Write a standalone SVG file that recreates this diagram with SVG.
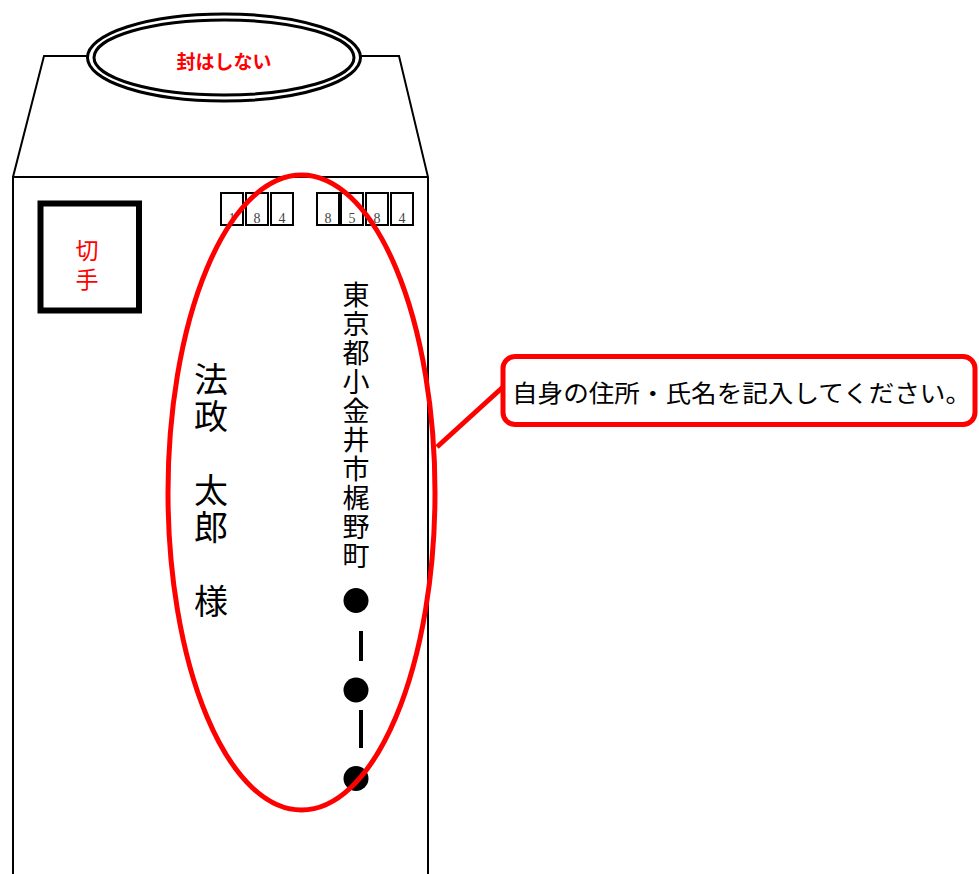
<svg xmlns="http://www.w3.org/2000/svg" width="979" height="874" viewBox="0 0 979 874">
<style>
.ln{fill:none;stroke:#000;stroke-width:2}
.box{fill:#fff;stroke:#000;stroke-width:2}
.dig{font-family:"Liberation Serif",serif;font-size:14px;fill:#444;text-anchor:middle}
.vt{font-family:"Noto Sans CJK JP",sans-serif;fill:#000;text-anchor:middle;dominant-baseline:central}
.vr{font-family:"Noto Sans CJK JP",sans-serif;fill:#000;writing-mode:vertical-rl}
.red{stroke:#f00;fill:none;stroke-width:5}
</style>
<rect width="979" height="874" fill="#fff"/>
<g id="envelope">
<polyline class="ln" points="13,874 13,177 44,56 399,56 428,177 428,874"/>
<line class="ln" x1="13" y1="177" x2="428" y2="177"/>
</g>
<g id="seal">
<ellipse cx="224" cy="57.5" rx="136.5" ry="43.5" fill="#fff" stroke="#000" stroke-width="3"/>
<ellipse cx="224" cy="57.5" rx="130" ry="37.5" fill="#fff" stroke="#000" stroke-width="3"/>
<text x="224" y="60" font-family="Noto Sans CJK JP,sans-serif" font-size="19" font-weight="bold" fill="#f00" text-anchor="middle" dominant-baseline="central">封はしない</text>
</g>
<g id="stamp">
<rect x="40.5" y="203.5" width="98.5" height="107" fill="#fff" stroke="#000" stroke-width="6"/>
<text class="vr" x="87" y="239" font-size="23" letter-spacing="6" style="fill:#f00">切手</text>
</g>
<g id="postcode">
<rect class="box" x="221" y="193" width="22" height="32"/>
<rect class="box" x="246" y="193" width="22" height="32"/>
<rect class="box" x="271" y="193" width="22" height="32"/>
<rect class="box" x="317" y="193" width="22" height="32"/>
<rect class="box" x="341" y="193" width="22" height="32"/>
<rect class="box" x="366" y="193" width="22" height="32"/>
<rect class="box" x="391" y="193" width="22" height="32"/>
<text class="dig" x="232" y="223">1</text>
<text class="dig" x="257" y="223">8</text>
<text class="dig" x="282" y="223">4</text>
<text class="dig" x="328" y="223">8</text>
<text class="dig" x="352" y="223">5</text>
<text class="dig" x="377" y="223">8</text>
<text class="dig" x="402" y="223">4</text>
</g>
<g id="address">
<text class="vr" x="356" y="281" font-size="27" letter-spacing="2">東京都小金井市梶野町</text>
<circle cx="356" cy="600.5" r="12.5" fill="#000"/>
<circle cx="356" cy="690" r="12.5" fill="#000"/>
<circle cx="356" cy="778.5" r="12.5" fill="#000"/>
<line x1="361" y1="631" x2="361" y2="661" stroke="#000" stroke-width="4"/>
<line x1="361" y1="710" x2="361" y2="748" stroke="#000" stroke-width="4"/>
</g>
<g id="name">
<text class="vr" x="211" y="362" font-size="34" letter-spacing="3">法政　太郎　様</text>
</g>
<g id="highlight">
<ellipse class="red" cx="301.5" cy="492.5" rx="133.5" ry="317.5"/>
</g>
<g id="connectors">
<line class="red" x1="503" y1="387" x2="437" y2="447"/>
</g>
<g id="callout">
<rect x="503" y="356.5" width="472" height="68" rx="12" fill="#fff" stroke="#f00" stroke-width="5"/>
<text x="512" y="391" font-family="Noto Sans CJK JP,sans-serif" font-size="24" fill="#000" dominant-baseline="central" textLength="459" lengthAdjust="spacingAndGlyphs">自身の住所・氏名を記入してください。</text>
</g>
</svg>
